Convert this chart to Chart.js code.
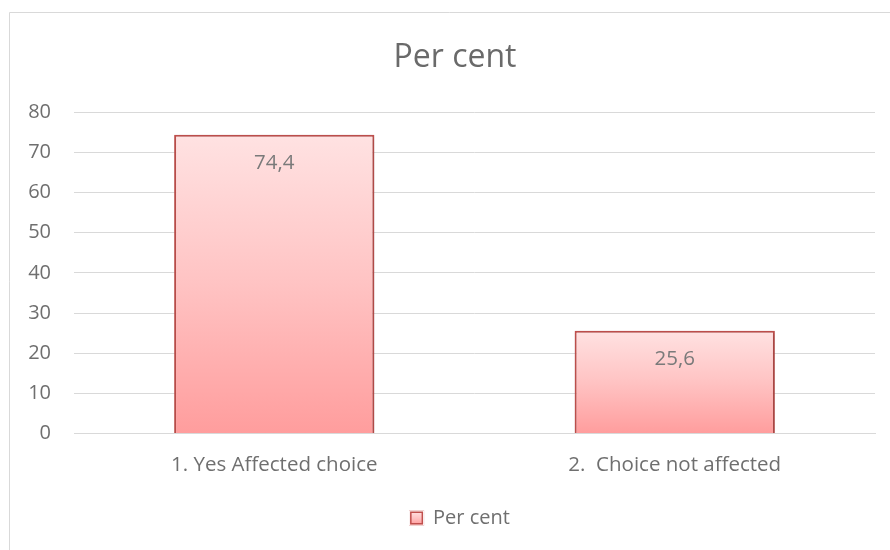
<!DOCTYPE html>
<html>
<head>
<meta charset="utf-8">
<script src="https://cdn.jsdelivr.net/npm/chart.js@4/dist/chart.umd.min.js"></script>
<style>
  html, body { margin: 0; padding: 0; background: #fff; }
  #wrap { position: relative; width: 890px; height: 550px; }
</style>
</head>
<body>
<div id="wrap"><canvas id="c" width="890" height="550"></canvas></div>
<script>
// Survey result: share of respondents whose choice was affected
const chartTitle = 'Per cent';
const seriesName = 'Per cent';
const categories = ['1. Yes Affected choice', '2.  Choice not affected'];
const values = [74.4, 25.6];
const yMin = 0, yMax = 80, yStep = 10;

const FONT = '"Open Sans", sans-serif';
const TEXT = '#6f6f6f';
const EDGE = '#C0504D';

function barGradient(ctx, top, bottom) {
  const g = ctx.createLinearGradient(0, top, 0, bottom);
  g.addColorStop(0, '#FFE2E2');
  g.addColorStop(0.5, '#FFC3C3');
  g.addColorStop(1, '#FF9D9D');
  return g;
}

const framePlugin = {
  id: 'frame',
  afterLayout(chart) {
    // centre title and legend a little right of the canvas middle
    if (chart.titleBlock) { chart.titleBlock.left += 10; chart.titleBlock.right += 10; }
    if (chart.legend) { chart.legend.left += 15; chart.legend.right += 15; }
  },
  beforeDraw(chart) {
    const c = chart.ctx;
    c.save();
    c.fillStyle = '#fff';
    c.fillRect(0, 0, chart.width, chart.height);
    c.strokeStyle = '#d9d9d9';
    c.lineWidth = 1;
    c.beginPath();
    c.moveTo(9.5, chart.height);
    c.lineTo(9.5, 12.5);
    c.lineTo(chart.width, 12.5);
    c.stroke();
    c.restore();
  }
};

const shadowPlugin = {
  id: 'barShadow',
  beforeDatasetsDraw(chart) {
    const c = chart.ctx;
    c.save();
    c.shadowColor = 'rgba(0,0,0,0.2)';
    c.shadowBlur = 4;
    c.shadowOffsetX = 1;
    c.shadowOffsetY = 1;
  },
  afterDatasetsDraw(chart) {
    chart.ctx.restore();
  }
};

const valueLabelPlugin = {
  id: 'valueLabels',
  afterDatasetsDraw(chart) {
    const c = chart.ctx;
    const meta = chart.getDatasetMeta(0);
    c.save();
    c.font = '20.5px ' + FONT;
    c.fillStyle = '#7a7a7a';
    c.textAlign = 'center';
    c.textBaseline = 'middle';
    meta.data.forEach((el, i) => {
      const txt = values[i].toFixed(1).replace('.', ',');
      c.fillText(txt, el.x, el.y + 28);
    });
    c.restore();
  }
};

const legendBoxPlugin = {
  id: 'legendBox',
  afterDraw(chart) {
    const lg = chart.legend;
    if (!lg || !lg.legendHitBoxes || !lg.legendHitBoxes.length) return;
    const hb = lg.legendHitBoxes[0];
    const bw = 13, bh = 13;
    const fs = 20;
    const x = hb.left;
    const y = hb.top + Math.max((fs - bh) / 2, 0);
    const c = chart.ctx;
    c.save();
    c.fillStyle = '#fff';
    c.fillRect(x - 1, y - 1, bw + 2, bh + 2);
    c.fillStyle = barGradient(c, y, y + bh);
    c.fillRect(x, y, bw, bh);
    c.strokeStyle = EDGE;
    c.lineWidth = 1.5;
    c.strokeRect(x + 0.75, y + 0.75, bw - 1.5, bh - 1.5);
    c.restore();
  }
};

new Chart(document.getElementById('c'), {
  type: 'bar',
  data: {
    labels: categories,
    datasets: [{
      label: seriesName,
      data: values,
      backgroundColor(ctx) {
        const chart = ctx.chart;
        const ys = chart.scales.y;
        if (!chart.chartArea || !ys || ctx.raw === undefined) return '#FFC3C3';
        const top = ys.getPixelForValue(ctx.raw);
        const bottom = ys.getPixelForValue(0);
        return barGradient(chart.ctx, top, bottom);
      },
      borderColor: EDGE,
      borderWidth: 2,
      barPercentage: 0.5,
      categoryPercentage: 1.0
    }]
  },
  options: {
    responsive: false,
    animation: false,
    devicePixelRatio: 1,
    layout: { padding: { left: 15, right: 15, top: 0, bottom: 12 } },
    plugins: {
      title: {
        display: true,
        text: chartTitle,
        color: '#6a6a6a',
        font: { family: FONT, size: 32, weight: 'normal', lineHeight: 1.2 },
        padding: { top: 39, bottom: 35 }
      },
      legend: {
        display: true,
        position: 'bottom',
        labels: {
          color: TEXT,
          font: { family: FONT, size: 20 },
          boxWidth: 13,
          boxHeight: 13,
          padding: 10
        }
      },
      tooltip: { enabled: false }
    },
    scales: {
      x: {
        grid: { display: false, drawTicks: false },
        border: { display: true, color: '#d9d9d9', width: 1 },
        ticks: {
          color: TEXT,
          font: { family: FONT, size: 20.5 },
          padding: 19,
          maxRotation: 0,
          autoSkip: false
        },
        afterFit(scale) { scale.height += 2; }
      },
      y: {
        min: yMin,
        max: yMax,
        grid: { color: '#d9d9d9', lineWidth: 1, drawTicks: false },
        border: { display: false },
        ticks: {
          stepSize: yStep,
          color: TEXT,
          font: { family: FONT, size: 20 },
          padding: 23
        },
        afterFit(scale) { scale.width = 59; }
      }
    }
  },
  plugins: [framePlugin, shadowPlugin, valueLabelPlugin, legendBoxPlugin]
});
</script>
</body>
</html>
